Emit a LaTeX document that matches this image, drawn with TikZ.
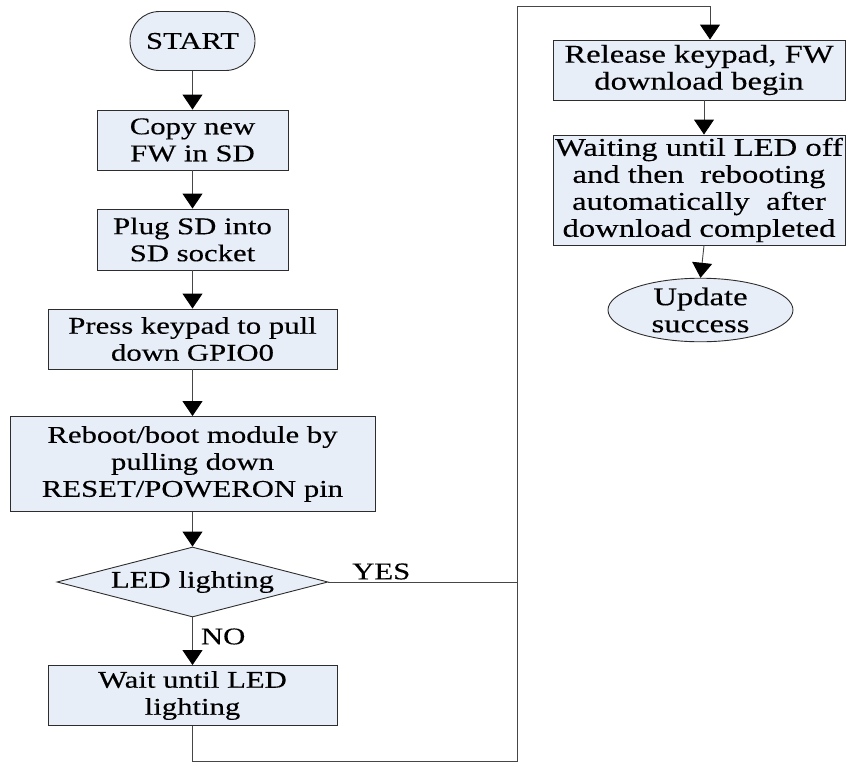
\documentclass[tikz,border=0pt]{standalone}
\usepackage{fontspec}
\setmainfont{Liberation Serif}[FakeStretch=1.28,FakeBold=0.3]
\usetikzlibrary{arrows.meta,positioning,shapes.geometric,shapes.misc}
\definecolor{boxfill}{RGB}{232,238,248}
\definecolor{boxedge}{RGB}{45,45,45}
\definecolor{linegrey}{RGB}{70,70,70}
\newcommand{\flowfont}{\fontsize{24}{27}\selectfont}
\newcommand{\flowfontR}{\fontsize{25.5}{27}\selectfont}
\tikzset{
  stepbox/.style={draw=boxedge,fill=boxfill,align=center,inner sep=0pt,
                  font=\flowfont,line width=0.9pt},
  stepboxR/.style={stepbox,font=\flowfontR},
  termin/.style={stepbox,rounded rectangle},
  endcap/.style={stepboxR,ellipse},
  decide/.style={stepbox,diamond,aspect=3.87},
  link/.style={draw=linegrey,line width=0.9pt},
  flow/.style={link,-{Triangle[width=20pt,length=15pt,color=black]}},
  lbl/.style={font=\flowfont,inner sep=2pt},
}

\begin{document}
\begin{tikzpicture}[x=1pt,y=-1pt]
  \useasboundingbox (0,0) rectangle (846,763);

  \node[termin,minimum width=125pt,minimum height=59pt] (start) at (192.5,41) {START};
  \node[stepbox,minimum width=191pt,minimum height=60pt] (copy)  at (192.5,140) {Copy new\\FW in SD};
  \node[stepbox,minimum width=191pt,minimum height=61pt] (plug)  at (192.5,239.5) {Plug SD into\\SD socket};
  \node[stepbox,minimum width=289pt,minimum height=60pt] (press) at (192.5,339) {Press keypad to pull\\down GPIO0};
  \node[stepbox,minimum width=365pt,minimum height=95pt] (reboot) at (192.5,464)
    {Reboot/boot module by\\pulling down\\RESET/POWERON pin};
  \node[decide,minimum width=271pt,minimum height=70pt] (led) at (192.5,582) {LED lighting};
  \node[stepbox,minimum width=289pt,minimum height=60pt] (wait) at (192.5,695.5) {Wait until LED\\lighting};

  \node[stepboxR,minimum width=292pt,minimum height=60pt] (release) at (699,70)
    {Release keypad, FW\\download begin};
  \node[stepboxR,minimum width=292pt,minimum height=110pt] (waitoff) at (699,190)
    {Waiting until LED off\\and then~ rebooting\\automatically~ after\\download completed};
  \node[endcap,minimum width=185pt,minimum height=60pt] (update) at (700.5,310) {Update\\success};

  \draw[flow] (start) -- (copy);
  \draw[flow] (copy) -- (plug);
  \draw[flow] (plug) -- (press);
  \draw[flow] (press) -- (reboot);
  \draw[flow] (reboot) -- (led);
  \draw[flow] (led) -- node[lbl,right=6pt,pos=0.4]{NO} (wait);

  % the YES branch meets the long return line on the right
  \coordinate (joint) at (517,582);
  \coordinate (botL) at (192.5,761);
  \coordinate (botR) at (517,761);
  \coordinate (topR) at (517,6);
  \draw[link] (led.east) -- node[lbl,above,pos=0.28]{YES} (joint);
  \draw[flow] (wait.south) -- (botL) -- (botR) -- (topR) -| ([xshift=11pt]release.north);

  \draw[flow] ([xshift=5pt]release.south) -- ([xshift=5pt]waitoff.north);
  \draw[flow] ([xshift=5pt]waitoff.south) -- (update.north);
\end{tikzpicture}
\end{document}
